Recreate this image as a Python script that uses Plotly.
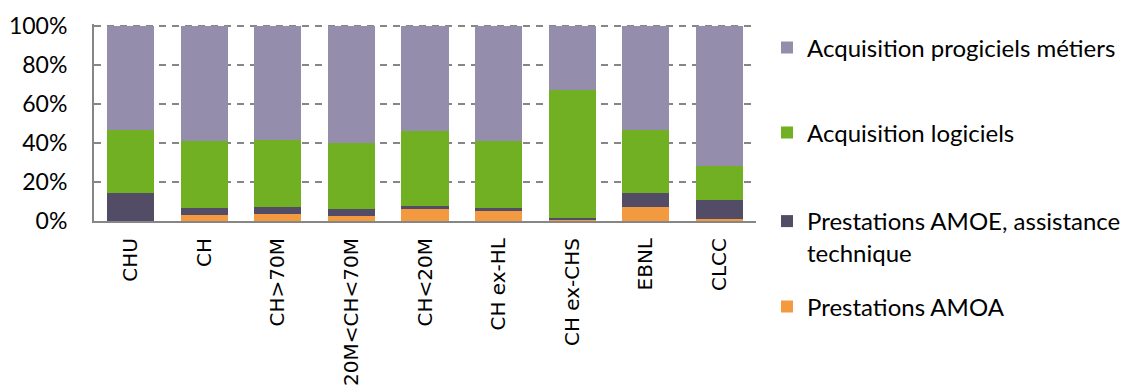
import plotly.graph_objects as go

# categories and shares (%) per cost type
categories = ["CHU", "CH", "CH>70M", "20M<CH<70M", "CH<20M", "CH ex-HL", "CH ex-CHS", "EBNL", "CLCC"]
amoa = [0.0, 3.1, 3.6, 2.4, 5.9, 5.3, 1.0, 7.1, 0.8]
amoe = [14.4, 3.7, 3.5, 3.5, 1.6, 1.3, 0.3, 7.5, 9.9]
logiciels = [32.5, 34.3, 34.2, 34.2, 38.5, 34.5, 65.8, 32.1, 17.5]
progiciels = [53.1, 58.9, 58.7, 59.9, 54.0, 58.9, 32.9, 53.3, 71.8]
y_ticks = [0, 20, 40, 60, 80, 100]
y_labels = ["0%", "20%", "40%", "60%", "80%", "100%"]

series = [
    ("Prestations AMOA", amoa, "#F39A41", "legend4"),
    ("Prestations AMOE, assistance<br>technique", amoe, "#524C66", "legend3"),
    ("Acquisition logiciels", logiciels, "#70B022", "legend2"),
    ("Acquisition progiciels métiers", progiciels, "#948DAB", "legend"),
]

fig = go.Figure()
for name, vals, color, leg in series:
    fig.add_trace(go.Bar(x=categories, y=vals, name=name, marker_color=color,
                         marker_line_width=0, legend=leg, showlegend=True))

# the page body adds an 8px margin, so the figure is 8px smaller and margins
# are trimmed by 8px; plot area ends up at 94..756 x 24..221 on screen
def ly(px):
    return (221 - px) / 197

leg_font = dict(family="Lato", size=24, color="black")
leg_common = dict(x=1.0166, xanchor="left", yanchor="middle", font=leg_font,
                  bgcolor="rgba(0,0,0,0)", valign="top", itemwidth=30)

fig.update_layout(
    width=1121, height=384,
    margin=dict(l=86, r=373, t=16, b=171, autoexpand=False),
    showlegend=True,
    barmode="stack", bargap=0.36,
    plot_bgcolor="white", paper_bgcolor="white",
    legend=dict(y=ly(48), **leg_common),
    legend2=dict(y=ly(133), **leg_common),
    legend3=dict(y=ly(237), **leg_common),
    legend4=dict(y=ly(307), **leg_common),
    xaxis=dict(showline=True, linecolor="#868686", linewidth=2, ticks="",
               tickangle=-90, tickfont=dict(family="DejaVu Sans", size=20, color="black"),
               ticklabelstandoff=7, showgrid=False),
    yaxis=dict(range=[0, 101], tickvals=y_ticks, ticktext=y_labels,
               showline=True, linecolor="#868686", linewidth=2, ticks="",
               tickfont=dict(family="Lato", size=23, color="black"),
               ticklabelstandoff=20,
               showgrid=True, gridcolor="#868686", gridwidth=1.8, griddash="7px,6px",
               zeroline=False),
)

fig.write_html("out.html")
